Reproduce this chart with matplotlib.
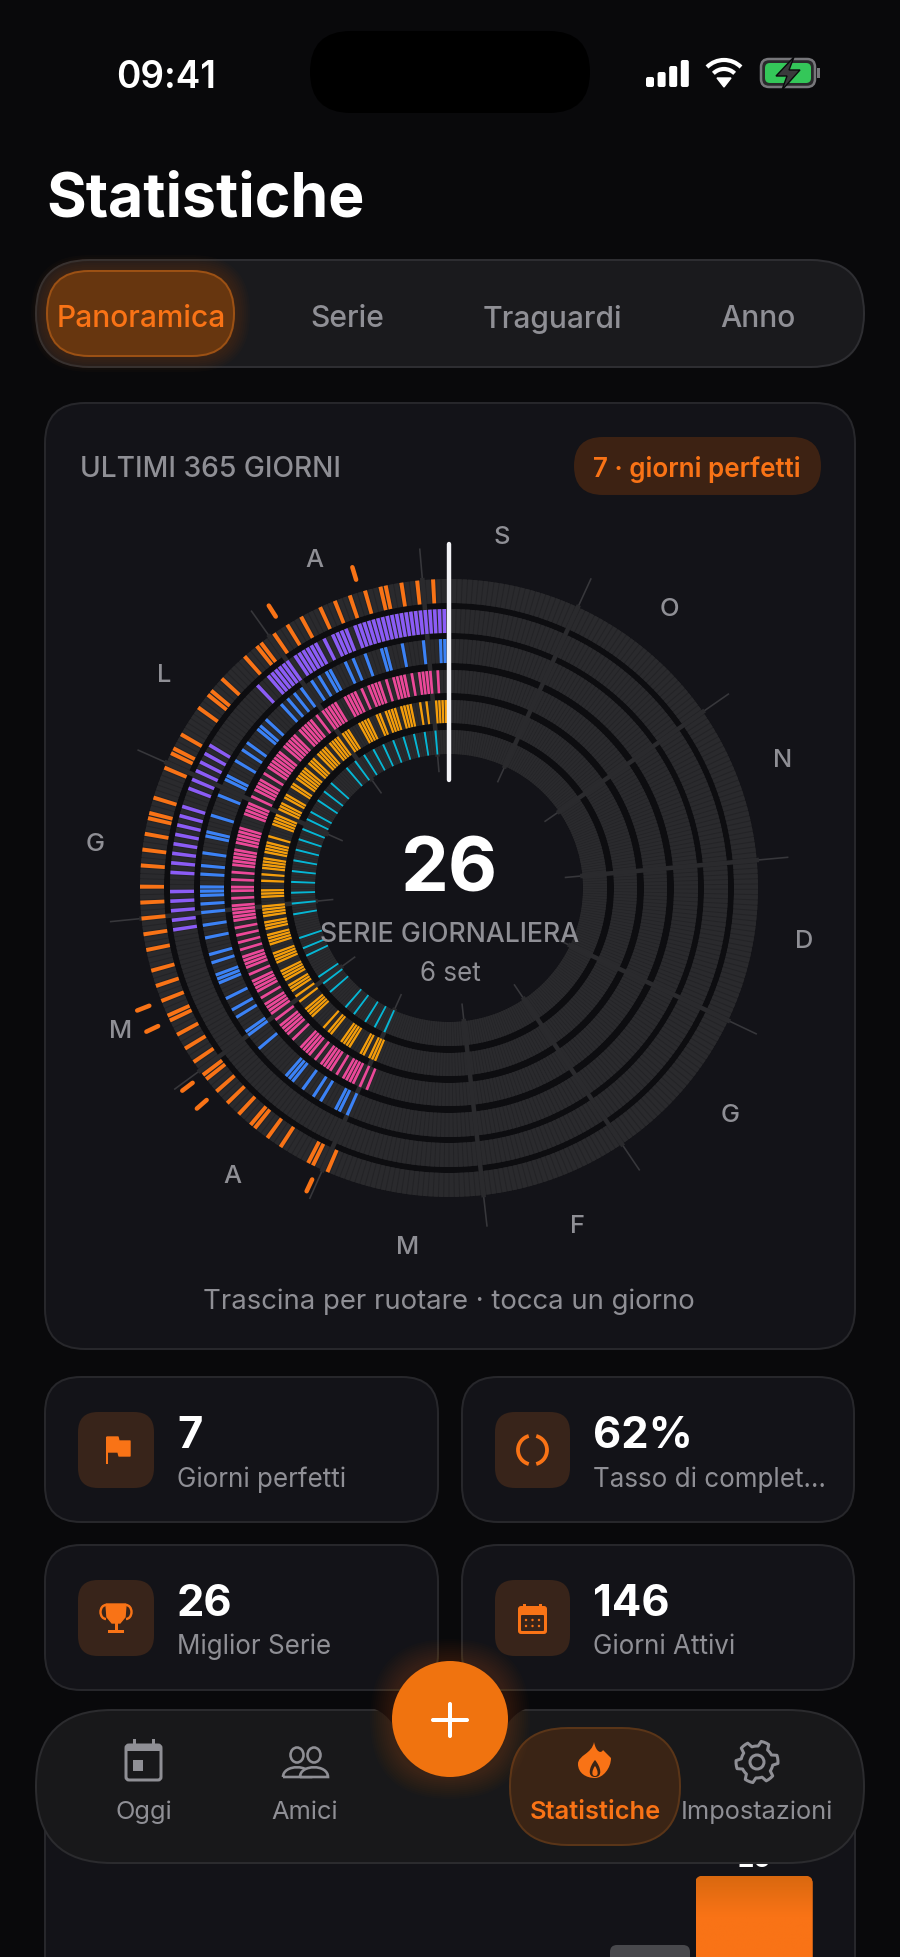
import numpy as np
import matplotlib
matplotlib.use("Agg")
import matplotlib.pyplot as plt
from matplotlib.patches import FancyBboxPatch, Circle, Rectangle, Polygon, Arc, PathPatch, Ellipse
from matplotlib.path import Path

plt.rcParams['font.family'] = ['Inter', 'DejaVu Sans']

# ---------------- data ----------------
month_names = ['S', 'A', 'L', 'G', 'M', 'A', 'M', 'F', 'G', 'D', 'N', 'O']
month_start = [5, 36, 67, 97, 128, 158, 189, 217, 248, 279, 309, 340]
perfect_days = [17, 33, 113, 117, 129, 133, 157]
orange_days = [0, 3, 6, 9, 12, 13, 16, 19, 22, 25, 29, 32, 35, 38, 39, 42, 48, 51, 52, 55, 61, 64, 65, 68,
               74, 77, 78, 81, 84, 87, 91, 94, 97, 100, 103, 107, 110, 113, 116, 117, 120, 123, 126, 129,
               130, 133, 136, 139, 142, 143, 146, 149, 155, 156, 159]
purple_days = [0, 1, 2, 3, 4, 5, 6, 7, 8, 9, 10, 11, 12, 13, 14, 15, 16, 17, 18, 19, 20, 22, 23, 24, 25, 27,
               29, 30, 31, 32, 33, 34, 36, 37, 38, 39, 40, 41, 44, 60, 62, 64, 66, 68, 70, 74, 76, 78, 80,
               82, 84, 86, 88, 92, 94, 96, 98, 100]
blue_days = [0, 1, 2, 6, 11, 15, 16, 20, 23, 25, 29, 30, 32, 34, 37, 39, 41, 43, 48, 50, 51, 55, 57, 60,
             64, 65, 69, 74, 78, 79, 83, 86, 88, 91, 92, 93, 95, 97, 100, 103, 107, 109, 112, 113, 114,
             118, 121, 123, 127, 128, 132, 141, 142, 143, 146, 149, 151, 155, 156, 158]
pink_days = [0, 3, 5, 6, 7, 8, 10, 12, 13, 14, 15, 17, 19, 20, 21, 22, 24, 26, 27, 28, 29, 32, 33, 34, 35,
             36, 38, 40, 41, 42, 43, 44, 46, 47, 48, 49, 50, 52, 53, 54, 55, 56, 57, 59, 61, 62, 63, 64,
             66, 68, 69, 70, 71, 75, 76, 77, 78, 79, 81, 82, 83, 84, 85, 87, 89, 91, 92, 94, 96, 97, 98,
             99, 100, 102, 104, 106, 108, 110, 111, 112, 113, 115, 117, 118, 119, 120, 122, 124, 125,
             126, 127, 129, 131, 132, 133, 134, 136, 139, 140, 141, 142, 144, 146, 147, 148, 149, 151,
             153, 154, 155, 156, 158, 160]
amber_days = [1, 2, 3, 4, 7, 9, 12, 13, 14, 15, 17, 18, 19, 20, 22, 23, 26, 27, 28, 29, 33, 34, 35, 37, 38,
              39, 40, 42, 43, 44, 45, 47, 48, 49, 51, 52, 53, 54, 55, 57, 58, 61, 62, 64, 65, 66, 68, 69,
              70, 71, 75, 77, 78, 79, 80, 82, 83, 84, 85, 87, 89, 92, 93, 94, 97, 98, 99, 100, 102, 103,
              104, 106, 107, 108, 109, 112, 113, 114, 115, 118, 119, 120, 121, 123, 124, 125, 127, 129,
              132, 133, 134, 135, 140, 142, 143, 147, 148, 149, 150, 154, 155, 157, 158, 159]
teal_days = [0, 5, 9, 13, 17, 21, 25, 29, 33, 37, 41, 49, 53, 57, 62, 65, 69, 73, 77, 81, 85, 89, 93, 97,
             101, 110, 114, 117, 126, 129, 133, 141, 145, 150, 154, 158]
ring_days = [orange_days, purple_days, blue_days, pink_days, amber_days, teal_days]
ring_colors = ['#f97316', '#8b5cf6', '#3b82f6', '#ec4899', '#f59e0b', '#06b6d4']
ring_inner = [285, 255, 225, 195, 165, 134]
ring_thick = [24, 24, 24, 23, 23, 24]

tab_labels = ['Panoramica', 'Serie', 'Traguardi', 'Anno']
stat_values = ['7', '62%', '26', '146']
stat_labels = ['Giorni perfetti', 'Tasso di complet…', 'Miglior Serie', 'Giorni Attivi']
nav_labels = ['Oggi', 'Amici', 'Statistiche', 'Impostazioni']
week_values = [19.1, 26]

# ---------------- palette ----------------
BG = '#09090b'
CARD = '#131318'
EDGE = '#27272b'
GRAY = '#8f8f95'
ORANGE = '#f97316'
TRACK = '#2a2a2d'
TRACK_D = '#232326'

W, H = 900, 1957
fig = plt.figure(figsize=(W / 100, (H + 0.01) / 100), dpi=100, facecolor=BG)
ax = fig.add_axes([0, 0, 1, 1])
ax.set_xlim(0, W)
ax.set_ylim(H, 0)
ax.axis('off')
PX = 0.72


def rrect(x0, y0, x1, y1, r, fc, ec='none', lw=0, z=1, alpha=None):
    p = FancyBboxPatch((x0, y0), x1 - x0, y1 - y0, boxstyle=f'round,pad=0,rounding_size={r}',
                       fc=fc, ec=ec, lw=lw * PX, zorder=z, alpha=alpha)
    ax.add_patch(p)
    return p


def txt(x, y, s, px, color='white', weight='normal', ha='center', z=6, axes=None):
    return (axes or ax).text(x, y, s, fontsize=px * PX, color=color, weight=weight, ha=ha,
                             va='center_baseline', zorder=z)


def glow(x0, y0, x1, y1, r, color, spread, z, strength=0.035):
    for i in range(spread, 0, -2):
        rrect(x0 - i, y0 - i, x1 + i, y1 + i, r + i, color, z=z, alpha=strength)


# ---------------- status bar ----------------
txt(166, 74, '09:41', 37, weight='semibold')
rrect(310, 31, 590, 113, 41, '#000000', z=2)
for i, hh in enumerate([10, 15, 21, 27]):
    rrect(646 + i * 11.6, 87 - hh, 654 + i * 11.6, 87, 2, 'white', z=2)
for rad, lw in [(24, 4.2), (15, 4.2)]:
    ax.add_patch(Arc((724, 84), 2 * rad, 2 * rad, theta1=225, theta2=315, color='white', lw=lw * PX, zorder=2))
ax.add_patch(Polygon([[717, 78], [731, 78], [724, 87]], fc='white', ec='white', lw=1, zorder=2))
rrect(761, 59, 815, 87, 8, '#2a2a2c', ec='#77777b', lw=2.5, z=2)
rrect(765, 63, 811, 83, 5, '#34c759', z=2)
ax.add_patch(Rectangle((817, 68), 3, 10, fc='#77777b', zorder=2))
ax.add_patch(Polygon([[794, 57], [776, 76], [787, 76], [782, 90], [800, 70], [789, 70]], fc='#3a3a3c', ec='#0a0a0c',
                     lw=1, zorder=2))

# ---------------- title and tabs ----------------
txt(46, 194, 'Statistiche', 60.8, weight='bold', ha='left')
rrect(36, 260, 864, 367, 53, '#1a1a1d', ec='#2e2e32', lw=2, z=1)
glow(47, 271, 234, 356, 42, ORANGE, 16, 1.2, 0.02)
rrect(47, 271, 234, 356, 42, '#67360f', ec='#9c5114', lw=2, z=1.5)
for i, (s, x) in enumerate(zip(tab_labels, [141, 347, 552, 758])):
    txt(x, 316, s, 30, color=ORANGE if i == 0 else GRAY, weight='medium')

# ---------------- main card ----------------
rrect(45, 403, 855, 1349, 40, CARD, ec=EDGE, lw=2, z=1)
txt(80, 466, 'ULTIMI 365 GIORNI', 28.2, color=GRAY, weight='medium', ha='left')
rrect(574, 437, 821, 495, 29, '#3d2213', z=2)
txt(697, 466, '7 · giorni perfetti', 26, color=ORANGE, weight='semibold')
txt(449, 1299, 'Trascina per ruotare · tocca un giorno', 27.5, color=GRAY)

# ---------------- stat cards ----------------
cols = [(45, 438, 78, 154, 177), (462, 854, 495, 570, 593)]
rows = [(1377, 1522, 1412, 1488, 1432, 1477), (1545, 1690, 1580, 1656, 1600, 1644)]
for k in range(4):
    x0, x1, ix0, ix1, tx = cols[k % 2]
    y0, y1, iy0, iy1, vy, ly = rows[k // 2]
    rrect(x0, y0, x1, y1, 36, CARD, ec=EDGE, lw=2, z=1)
    rrect(ix0, iy0, ix1, iy1, 20, '#38241a', z=2)
    txt(tx, vy, stat_values[k], 43.5, weight='bold', ha='left')
    txt(tx, ly, stat_labels[k], 26, color=GRAY, ha='left')

# flag
ax.add_patch(Rectangle((105.5, 1437), 2.6, 27, fc=ORANGE, zorder=3))
ax.add_patch(Polygon([[107, 1437], [118, 1437], [119, 1441], [130, 1441], [130, 1456], [119, 1456], [118, 1452], [107, 1452]],
                     fc=ORANGE, ec=ORANGE, lw=1, joinstyle='round', zorder=3))
# ring
for a, b in [(105, 255), (-75, 75)]:
    ax.add_patch(Arc((532.5, 1450), 29, 29, theta1=a, theta2=b, color=ORANGE, lw=3.8 * PX, zorder=3))
# trophy
ax.add_patch(Polygon([[106, 1604], [126, 1604], [125, 1617], [120, 1623], [112, 1623], [107, 1617]], fc=ORANGE, ec=ORANGE,
                     lw=1, zorder=3))
ax.add_patch(Arc((106, 1612), 11, 14, theta1=90, theta2=270, color=ORANGE, lw=2.4 * PX, zorder=3))
ax.add_patch(Arc((126, 1612), 11, 14, theta1=-90, theta2=90, color=ORANGE, lw=2.4 * PX, zorder=3))
ax.add_patch(Rectangle((114.5, 1622), 3, 9, fc=ORANGE, zorder=3))
ax.add_patch(Rectangle((108, 1630), 16, 3, fc=ORANGE, zorder=3))
# calendar
rrect(518, 1606, 547, 1634, 3, ORANGE, z=3)
rrect(521, 1615, 544, 1631, 1, '#38241a', z=3)
for xx in (524, 540):
    ax.add_patch(Rectangle((xx - 1, 1604), 2.5, 5, fc=ORANGE, zorder=3))
for yy in [1620, 1626]:
    for xx in [526, 532.5, 539]:
        ax.add_patch(Circle((xx, yy), 1.2, fc=ORANGE, zorder=4))

# ---------------- lower card, bars behind nav ----------------
rrect(45, 1775, 855, 2060, 1, CARD, ec=EDGE, lw=2, z=1)
txt(754, 1857, '26', 26, weight='bold', z=1.5)

# ---------------- nav ----------------
rrect(36, 1710, 864, 1863, 76, '#18181a', ec='#2b2b2e', lw=2, z=2)
notch = Path([(360, 1705), (378, 1708), (386, 1714), (394, 1726), (506, 1726), (514, 1714), (522, 1708), (540, 1705),
              (360, 1705)],
             [Path.MOVETO, Path.CURVE4, Path.CURVE4, Path.CURVE4, Path.LINETO, Path.CURVE4, Path.CURVE4, Path.CURVE4,
              Path.CLOSEPOLY])
ax.add_patch(PathPatch(notch, fc=BG, ec='none', zorder=2.1))
rrect(510, 1728, 680, 1845, 58, '#3a2415', ec='#5a3518', lw=2, z=3)
glow(392, 1661, 508, 1777, 58, ORANGE, 22, 3.5, 0.016)
ax.add_patch(Circle((450, 1719), 58, fc='#f0730f', zorder=4))
rrect(431, 1718, 469, 1722, 2, 'white', z=5)
rrect(448, 1702, 452, 1738, 2, 'white', z=5)
for s, x, c, w in zip(nav_labels, [143.5, 305, 595, 757], [GRAY, GRAY, ORANGE, GRAY],
                      ['normal', 'normal', 'semibold', 'normal']):
    txt(x, 1810, s, 25.4, color=c, weight=w)

# Oggi
rrect(126, 1745, 161, 1780, 3, 'none', ec=GRAY, lw=3, z=5)
ax.add_patch(Rectangle((126, 1745), 35, 6, fc=GRAY, zorder=5))
ax.add_patch(Rectangle((132.5, 1739), 3, 7, fc=GRAY, zorder=5))
ax.add_patch(Rectangle((151.5, 1739), 3, 7, fc=GRAY, zorder=5))
ax.add_patch(Rectangle((133, 1760), 10, 11, fc=GRAY, zorder=5))
# Amici
for cx in (297, 314):
    ax.add_patch(Ellipse((cx, 1755), 13, 15, fc='none', ec=GRAY, lw=2.6 * PX, zorder=5))
    ax.add_patch(PathPatch(Path([(cx - 14, 1777), (cx - 14, 1764), (cx + 14, 1764), (cx + 14, 1777), (cx - 14, 1777)],
                                [Path.MOVETO, Path.CURVE4, Path.CURVE4, Path.CURVE4, Path.LINETO]),
                           fc='#18181a', ec=GRAY, lw=2.6 * PX, zorder=5))
# flame
fl = Path([(594, 1742), (596, 1752), (601, 1754), (603, 1750), (611, 1758), (611, 1768), (603, 1778), (595, 1778),
           (586, 1778), (578, 1773), (578, 1764), (578, 1755), (592, 1754), (594, 1742)],
          [Path.MOVETO, Path.CURVE4, Path.CURVE4, Path.CURVE4, Path.LINETO, Path.CURVE4, Path.CURVE4, Path.CURVE4,
           Path.CURVE4, Path.CURVE4, Path.CURVE4, Path.CURVE4, Path.CURVE4, Path.CURVE4])
ax.add_patch(PathPatch(fl, fc=ORANGE, ec='none', zorder=5))
dr = Path([(595, 1760), (589, 1767), (587, 1777), (595, 1777), (603, 1777), (601, 1767), (595, 1760)],
          [Path.MOVETO] + [Path.CURVE4] * 6)
ax.add_patch(PathPatch(dr, fc='#3a2415', ec='none', zorder=5))
ax.add_patch(PathPatch(Path([(595, 1766), (592, 1770), (591, 1776), (595, 1776), (599, 1776), (598, 1770), (595, 1766)],
                            [Path.MOVETO] + [Path.CURVE4] * 6), fc=ORANGE, ec='none', zorder=5))
# gear
gt = np.linspace(0, 2 * np.pi, 49)
gr = np.array([21 if (i % 8) in (0, 1, 2, 3) else 16 for i in range(49)])
gear = np.c_[757 + gr * np.sin(gt + 0.2), 1762 - gr * np.cos(gt + 0.2)]
ax.add_patch(Polygon(gear, fc='none', ec=GRAY, lw=3 * PX, joinstyle='round', zorder=5))
ax.add_patch(Circle((757, 1762), 7, fc='none', ec=GRAY, lw=3 * PX, zorder=5))

# ---------------- radial wheel on polar axes ----------------
cx, cy, R = 449, 888, 360
pol = fig.add_axes([(cx - R) / W, (H - cy - R) / H, 2 * R / W, 2 * R / H], projection='polar')
pol.set_theta_zero_location('N')
pol.set_theta_direction(-1)
pol.set_rlim(0, R)
pol.patch.set_alpha(0)
pol.axis('off')
DAY = 2 * np.pi / 365


def th(d):
    return -np.asarray(d, float) * DAY


all_days = np.arange(365)
pol.bar(0, 175, width=2 * np.pi, bottom=134, color='#0d0d10', linewidth=0, zorder=1)
for r0, t in zip(ring_inner, ring_thick):
    pol.bar(0, t, width=2 * np.pi, bottom=r0, color=TRACK_D, linewidth=0, zorder=2)
    pol.bar(th(all_days), t, width=DAY * 0.8, bottom=r0, color=TRACK, linewidth=0, zorder=2.1)
for d in month_start:
    pol.plot([th(d)] * 2, [117, 340], color='#37373b', lw=1.6 * PX, zorder=2.2)
    pol.plot([th(d)] * 2, [134, 309], color=TRACK, lw=4.5 * PX, zorder=2.3)
for days, col, r0, t in zip(ring_days, ring_colors, ring_inner, ring_thick):
    pol.bar(th(days), t, width=DAY * 0.76, bottom=r0, color=col, linewidth=0, zorder=3)
for d in perfect_days:
    pol.plot([th(d)] * 2, [322, 335], color=ORANGE, lw=4.5 * PX, solid_capstyle='round', zorder=3)
pol.plot([0.0, 0.0], [108, 344], color='#f2f2f6', lw=4.4 * PX, solid_capstyle='round', zorder=5)
for name, d in zip(month_names, month_start):
    pol.annotate(name, (float(th(d - 13.4)), 358), xytext=(1 * PX, -3.9 * PX), textcoords='offset points',
                 fontsize=25.5 * PX, color=GRAY, weight='medium', ha='center', va='center', zorder=4)

# ---------------- centre text, on top of the wheel ----------------
top = fig.add_axes([0, 0, 1, 1], zorder=10)
top.set_xlim(0, W)
top.set_ylim(H, 0)
top.axis('off')
txt(449.5, 864, '26', 76, weight='bold', axes=top)
txt(450, 932, 'SERIE GIORNALIERA', 26.7, color=GRAY, weight='medium', axes=top)
txt(450, 971, '6 set', 26, color=GRAY, axes=top)

# ---------------- bars at the bottom of the page ----------------
bax = fig.add_axes([600 / W, 0, 220 / W, (H - 1866) / H])
bax.patch.set_alpha(0)
bax.axis('off')
bax.set_xlim(600, 820)
bax.set_ylim(26 - (H - 1876) / 10, 26 + 1)
gray_bar, orange_bar = bax.bar([650, 754], week_values, width=[80, 117], color=['#48484c', ORANGE], linewidth=0)
gray_bar.set_x(610)
grad = np.linspace(0, 1, 64)[:, None]
ylo, yhi = bax.get_ylim()
cmap = matplotlib.colors.LinearSegmentedColormap.from_list('o', ['#f97316', '#f97316', '#d9680f'])
im = bax.imshow(grad, extent=[orange_bar.get_x(), orange_bar.get_x() + orange_bar.get_width(), ylo, 26], origin='lower',
                aspect='auto', cmap=cmap, zorder=3)
bax.set_xlim(600, 820)
bax.set_ylim(ylo, yhi)
# rounded tops of the bars, in page pixels
clip_o = FancyBboxPatch((695.5, 1876), 117, 200, boxstyle='round,pad=0,rounding_size=7', transform=ax.transData)
clip_g = FancyBboxPatch((610, 1945), 80, 100, boxstyle='round,pad=0,rounding_size=7', transform=ax.transData)
im.set_clip_path(clip_o)
orange_bar.set_clip_path(clip_o)
gray_bar.set_clip_path(clip_g)

fig.savefig('out.png', dpi=100, facecolor=BG)
